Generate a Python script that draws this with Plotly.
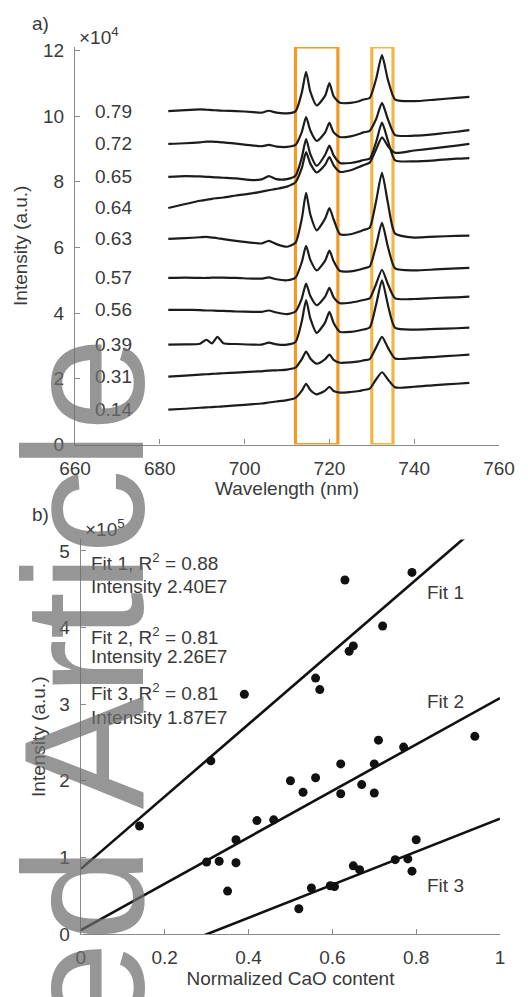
import plotly.graph_objects as go

# ---------------- Panel a data (intensity in units of 1e4) ----------------
WAVELENGTH = [682, 686, 689.5, 691, 692.3, 693.6, 695, 698, 702, 704, 705.7, 707.5,
              710, 712, 713.5, 714.5, 715.5, 717, 719, 720, 721, 722.5, 725, 727,
              728, 729.5, 731, 732.4, 733.8, 735.5, 740, 745, 750, 753]

CAO_LABELS = ["0.79", "0.72", "0.65", "0.64", "0.63", "0.57", "0.56", "0.39", "0.31", "0.14"]

SPEC_079 = [10.15, 10.18, 10.2, 10.19, 10.18, 10.17, 10.16, 10.15, 10.12, 10.1, 10.16, 10.1,
            10.08, 10.14, 10.72, 11.34, 10.74, 10.32, 10.62, 11.0, 10.6, 10.4, 10.4, 10.45,
            10.5, 10.55, 11.12, 11.85, 11.1, 10.5, 10.45, 10.5, 10.55, 10.58]
SPEC_072 = [9.15, 9.17, 9.2, 9.22, 9.22, 9.21, 9.2, 9.16, 9.1, 9.08, 9.12, 9.07,
            9.06, 9.12, 9.52, 9.97, 9.56, 9.24, 9.5, 9.79, 9.5, 9.36, 9.38, 9.45,
            9.5, 9.55, 9.9, 10.4, 9.9, 9.42, 9.4, 9.45, 9.52, 9.57]
SPEC_065 = [8.15, 8.17, 8.16, 8.15, 8.14, 8.13, 8.12, 8.1, 8.05, 8.07, 8.17, 8.08,
            8.08, 8.18, 8.74, 9.3, 8.84, 8.48, 8.82, 9.1, 8.8, 8.57, 8.57, 8.62,
            8.66, 8.7, 9.2, 9.8, 9.25, 8.65, 8.62, 8.65, 8.7, 8.72]
SPEC_064 = [7.2, 7.32, 7.42, 7.45, 7.48, 7.5, 7.52, 7.58, 7.65, 7.7, 7.74, 7.78,
            7.85, 7.98, 8.42, 8.9, 8.55, 8.28, 8.52, 8.75, 8.5, 8.3, 8.35, 8.45,
            8.5, 8.58, 8.98, 9.35, 9.08, 8.88, 8.95, 9.02, 9.1, 9.15]
SPEC_063 = [6.26, 6.28, 6.31, 6.32, 6.3, 6.28, 6.25, 6.2, 6.14, 6.12, 6.2, 6.1,
            6.02, 6.14, 6.88, 7.66, 7.0, 6.52, 6.88, 7.2, 6.85, 6.4, 6.4, 6.48,
            6.53, 6.6, 7.4, 8.27, 7.35, 6.42, 6.3, 6.33, 6.35, 6.36]
SPEC_057 = [5.07, 5.08, 5.07, 5.07, 5.08, 5.08, 5.08, 5.07, 5.05, 5.05, 5.09, 5.03,
            5.0, 5.08, 5.56, 6.05, 5.62, 5.3, 5.6, 5.9, 5.58, 5.28, 5.27, 5.32,
            5.36, 5.42, 6.05, 6.75, 6.02, 5.36, 5.3, 5.33, 5.36, 5.38]
SPEC_056 = [4.1, 4.1, 4.09, 4.08, 4.08, 4.07, 4.07, 4.05, 4.04, 4.04, 4.08, 4.02,
            3.97, 4.05, 4.45, 4.9, 4.52, 4.24, 4.5, 4.77, 4.48, 4.3, 4.32, 4.37,
            4.4, 4.45, 4.88, 5.32, 4.88, 4.45, 4.43, 4.46, 4.48, 4.5]
SPEC_039 = [3.04, 3.05, 3.07, 3.19, 3.08, 3.28, 3.08, 3.06, 3.04, 3.04, 3.1, 3.05,
            3.04, 3.12, 3.76, 4.4, 3.84, 3.4, 3.72, 4.04, 3.7, 3.43, 3.43, 3.47,
            3.5, 3.56, 4.25, 5.0, 4.25, 3.55, 3.5, 3.52, 3.54, 3.56]
SPEC_031 = [2.07, 2.1, 2.13, 2.14, 2.15, 2.16, 2.17, 2.19, 2.22, 2.23, 2.25, 2.26,
            2.28, 2.34, 2.6, 2.83, 2.62, 2.46, 2.6, 2.74, 2.58, 2.49, 2.5, 2.53,
            2.56, 2.6, 2.95, 3.28, 2.95, 2.62, 2.63, 2.67, 2.71, 2.74]
SPEC_014 = [1.06, 1.09, 1.12, 1.13, 1.14, 1.15, 1.16, 1.19, 1.23, 1.25, 1.28, 1.31,
            1.35, 1.42, 1.64, 1.85, 1.66, 1.53, 1.64, 1.76, 1.63, 1.58, 1.6, 1.63,
            1.66, 1.7, 1.98, 2.2, 1.98, 1.74, 1.76, 1.81, 1.85, 1.88]

SPECTRA = [SPEC_079, SPEC_072, SPEC_065, SPEC_064, SPEC_063,
           SPEC_057, SPEC_056, SPEC_039, SPEC_031, SPEC_014]

BOX_RANGES = [(712, 722), (730, 735)]   # highlighted wavelength windows (nm)
X_TICKS_A = [660, 680, 700, 720, 740, 760]
Y_TICKS_A = [0, 2, 4, 6, 8, 10, 12]

# ---------------- Panel b data (intensity in units of 1e5) ----------------
FIT1_X = [0.14, 0.31, 0.39, 0.56, 0.57, 0.63, 0.64, 0.65, 0.72, 0.79]
FIT1_Y = [1.41, 2.26, 3.13, 3.34, 3.19, 4.62, 3.69, 3.76, 4.02, 4.72]
FIT2_X = [0.30, 0.33, 0.35, 0.37, 0.37, 0.42, 0.46, 0.50, 0.53, 0.56,
          0.62, 0.62, 0.67, 0.70, 0.70, 0.71, 0.77, 0.94]
FIT2_Y = [0.94, 0.95, 0.56, 0.93, 1.23, 1.48, 1.49, 2.00, 1.85, 2.04,
          2.22, 1.83, 1.95, 2.22, 1.84, 2.53, 2.44, 2.58]
FIT3_X = [0.52, 0.55, 0.595, 0.605, 0.65, 0.665, 0.75, 0.78, 0.79, 0.80]
FIT3_Y = [0.33, 0.60, 0.63, 0.62, 0.89, 0.84, 0.97, 0.98, 0.82, 1.23]
FIT_SLOPE = [4.72, 3.03, 2.155]
FIT_INTERCEPT = [0.85, 0.05, -0.65]
FIT_NAMES = ["Fit 1", "Fit 2", "Fit 3"]
FIT_R2 = ["0.88", "0.81", "0.81"]
FIT_INTENSITY = ["2.40E7", "2.26E7", "1.87E7"]
X_TICKS_B = [0, 0.2, 0.4, 0.6, 0.8, 1]
X_TICKTEXT_B = ["0", "0.2", "0.4", "0.6", "0.8", "1"]
Y_TICKS_B = [0, 1, 2, 3, 4, 5]

# ---------------- figure ----------------
W, H = 528, 997
ML, MR, MT, MB = 75, 21, 47, 62
PW, PH = W - ML - MR, H - MT - MB
FONT = "Liberation Sans, Arial, Helvetica, sans-serif"
TXT = "#3a3a3a"
AX = "#8a8a8a"


def px(xp):
    return (xp - ML) / PW


def py(yp):
    return (H - MB - yp) / PH


fig = go.Figure()

for lab, spec in zip(CAO_LABELS, SPECTRA):
    fig.add_trace(go.Scatter(x=WAVELENGTH, y=spec, mode="lines",
                             line=dict(color="#1c1c1c", width=2.2, shape="spline", smoothing=0.6),
                             xaxis="x", yaxis="y", showlegend=False, name=lab))

for xs, ys in [(FIT1_X, FIT1_Y), (FIT2_X, FIT2_Y), (FIT3_X, FIT3_Y)]:
    fig.add_trace(go.Scatter(x=xs, y=ys, mode="markers",
                             marker=dict(color="#111111", size=9),
                             xaxis="x2", yaxis="y2", showlegend=False))

for s, b in zip(FIT_SLOPE, FIT_INTERCEPT):
    xl = [0, 1]
    fig.add_trace(go.Scatter(x=xl, y=[b + s * v for v in xl], mode="lines",
                             line=dict(color="#111111", width=2.6),
                             xaxis="x2", yaxis="y2", showlegend=False))

shapes = []
box_cols = ["#F29A24", "#F2B445"]
for (x0, x1), c in zip(BOX_RANGES, box_cols):
    shapes.append(dict(type="rect", xref="x", yref="y", x0=x0, x1=x1, y0=0, y1=12.1,
                       line=dict(color=c, width=3.2), layer="below"))

annotations = []
for lab, spec in zip(CAO_LABELS, SPECTRA):
    annotations.append(dict(x=669, y=spec[0], xref="x", yref="y", text=lab, showarrow=False,
                            xanchor="center", yanchor="middle", font=dict(size=19, color=TXT)))

# panel b fit texts
text_rows = [(4.86, 4.53), (3.89, 3.62), (3.16, 2.83)]
for i, ((ya, yb), r2, inten) in enumerate(zip(text_rows, FIT_R2, FIT_INTENSITY)):
    annotations.append(dict(x=0.02, y=ya, xref="x2", yref="y2",
                            text=f"{FIT_NAMES[i]}, R<sup>2</sup> = {r2}", showarrow=False,
                            xanchor="left", yanchor="middle", font=dict(size=19, color=TXT)))
    annotations.append(dict(x=0.02, y=yb, xref="x2", yref="y2",
                            text=f"Intensity {inten}", showarrow=False,
                            xanchor="left", yanchor="middle", font=dict(size=19, color=TXT)))

fit_label_pos = [(0.87, 4.46), (0.87, 3.04), (0.87, 0.63)]
for name, (xx, yy) in zip(FIT_NAMES, fit_label_pos):
    annotations.append(dict(x=xx, y=yy, xref="x2", yref="y2", text=name, showarrow=False,
                            xanchor="center", yanchor="middle", font=dict(size=19, color=TXT)))

# panel letters and exponents
annotations += [
    dict(x=px(40), y=py(23), xref="paper", yref="paper", text="a)", showarrow=False,
         xanchor="center", yanchor="middle", font=dict(size=19, color=TXT)),
    dict(x=px(40), y=py(515), xref="paper", yref="paper", text="b)", showarrow=False,
         xanchor="center", yanchor="middle", font=dict(size=19, color=TXT)),
    dict(x=px(77), y=py(36), xref="paper", yref="paper", text="×10<sup>4</sup>", showarrow=False,
         xanchor="left", yanchor="middle", font=dict(size=19, color=TXT)),
    dict(x=px(83), y=py(529), xref="paper", yref="paper", text="×10<sup>5</sup>", showarrow=False,
         xanchor="left", yanchor="middle", font=dict(size=19, color=TXT)),
]

# journal watermark (partly outside the page, as in the reference)
annotations.append(dict(x=px(84), y=py(947), xref="paper", yref="paper", text="Accepted Article",
                        showarrow=False, textangle=-90, xanchor="center", yanchor="middle",
                        font=dict(size=170, color="rgba(110,110,110,0.72)",
                                  family="Liberation Sans, Arial, sans-serif")))

axis_common = dict(showline=True, linecolor=AX, linewidth=1.3, ticks="inside", ticklen=5,
                   tickcolor=AX, tickwidth=1.3, showgrid=False, zeroline=False,
                   tickfont=dict(size=19, color=TXT, family=FONT), mirror=False)

fig.update_layout(
    width=W, height=H,
    margin=dict(l=ML, r=MR, t=MT, b=MB),
    paper_bgcolor="white", plot_bgcolor="white",
    font=dict(family=FONT, color=TXT, size=19),
    showlegend=False,
    xaxis=dict(axis_common, domain=[0, 431 / PW], range=[660, 760], anchor="y",
               tickvals=X_TICKS_A, ticklabelstandoff=6,
               title=dict(text="Wavelength (nm)", font=dict(size=19, color=TXT), standoff=4)),
    yaxis=dict(axis_common, domain=[py(445), 1], range=[0, 12.1], anchor="x",
               tickvals=Y_TICKS_A, ticklabelstandoff=6,
               title=dict(text="Intensity (a.u.)", font=dict(size=19, color=TXT), standoff=10)),
    xaxis2=dict(axis_common, domain=[px(81), 1], range=[0, 1], anchor="y2",
                tickvals=X_TICKS_B, ticktext=X_TICKTEXT_B, ticklabelstandoff=6,
                title=dict(text="Normalized CaO content", font=dict(size=19, color=TXT), standoff=4)),
    yaxis2=dict(axis_common, domain=[0, py(540)], range=[0, 5.15], anchor="x2",
                tickvals=Y_TICKS_B, ticklabelstandoff=6,
                title=dict(text="Intensity (a.u.)", font=dict(size=19, color=TXT), standoff=8)),
    shapes=shapes,
    annotations=annotations,
)

fig.write_html("out.html")
